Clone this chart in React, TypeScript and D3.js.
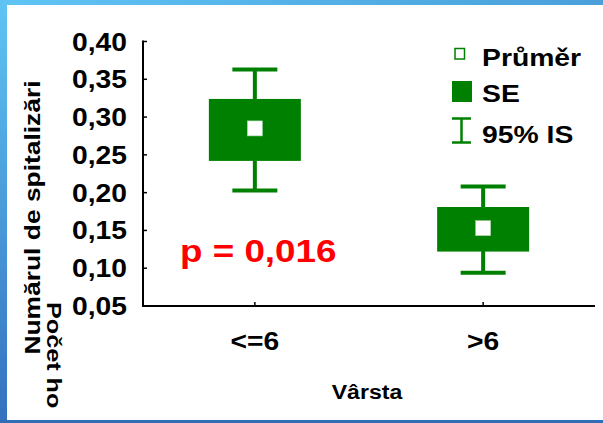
import React, { useEffect } from "react";
import * as d3 from "d3";

const categories = ["<=6", ">6"];
const means = [0.285, 0.153];
const seLow = [0.242, 0.122];
const seHigh = [0.324, 0.181];
const ciLow = [0.203, 0.094];
const ciHigh = [0.363, 0.208];
const yTicks = [0.05, 0.1, 0.15, 0.2, 0.25, 0.3, 0.35, 0.4];
const legendLabels = ["Průměr", "SE", "95% IS"];
const pText = "p = 0,016";
const yTitle = "Numărul de spitalizări";
const yTitle2 = "Počet ho";
const xTitle = "Vârsta";

const W = 603;
const H = 423;
const GREEN = "#008000";
const FONT = "'Liberation Sans', Arial, sans-serif";

export default function App() {
  useEffect(() => {
    document.body.style.margin = "0";
  }, []);

  const x0 = 143;
  const x1 = 595;
  const yBottom = 306;
  const yTop = 41.5;
  const y = d3.scaleLinear().domain([0.05, 0.4]).range([yBottom, yTop]);
  const x = d3.scalePoint<string>().domain(categories).range([x0, x1]).padding(0.49);
  const fmt = d3.formatLocale({ decimal: ",", thousands: ".", grouping: [3], currency: ["", ""] }).format(".2f");

  const boxW = 92;
  const capW = 45;
  const meanS = 15;
  const SX = 1.13;

  return (
    <svg width={W} height={H} style={{ position: "absolute", left: 0, top: 0, display: "block" }} fontFamily={FONT}>
      <defs>
        <linearGradient id="topG" x1="0" x2="1" y1="0" y2="0">
          <stop offset="0" stopColor="#5FC4F4" />
          <stop offset="1" stopColor="#4A9FDB" />
        </linearGradient>
        <linearGradient id="leftG" x1="0" x2="0" y1="0" y2="1">
          <stop offset="0" stopColor="#5FC4F4" />
          <stop offset="1" stopColor="#3471BE" />
        </linearGradient>
      </defs>
      <rect x={0} y={0} width={W} height={H} fill="#ffffff" />

      {/* secondary (partly hidden) title */}
      <text
        transform={`translate(47,302) rotate(90) scale(1.2,1)`}
        fontSize={21}
        fontWeight="bold"
        fill="#000"
      >
        {yTitle2}
      </text>

      {/* y axis */}
      <line x1={x0} x2={x0} y1={yTop - 1} y2={yBottom + 1} stroke="#000" strokeWidth={2} />
      {yTicks.map((t) => (
        <g key={t}>
          <line x1={x0} x2={x0 + 4} y1={y(t)} y2={y(t)} stroke="#000" strokeWidth={1.5} />
          <text
            transform={`translate(127,${y(t) + 9}) scale(${SX},1)`}
            textAnchor="end"
            fontSize={25}
            fontWeight="bold"
            fill="#000"
          >
            {fmt(t)}
          </text>
        </g>
      ))}

      {/* x axis */}
      <line x1={x0 - 1} x2={x1} y1={yBottom} y2={yBottom} stroke="#000" strokeWidth={2} />
      {categories.map((c) => (
        <g key={c}>
          <line x1={x(c)} x2={x(c)} y1={yBottom} y2={yBottom - 4} stroke="#000" strokeWidth={1.5} />
          <text
            transform={`translate(${x(c)},350) scale(${SX},1)`}
            textAnchor="middle"
            fontSize={25}
            fontWeight="bold"
            fill="#000"
          >
            {c}
          </text>
        </g>
      ))}

      {/* axis titles */}
      <text
        transform={`translate(40,${(78 + 357) / 2}) rotate(-90) scale(1.2,1)`}
        textAnchor="middle"
        fontSize={22}
        fontWeight="bold"
        fill="#000"
      >
        {yTitle}
      </text>
      <text
        transform={`translate(367,399) scale(1.1,1)`}
        textAnchor="middle"
        fontSize={21}
        fontWeight="bold"
        fill="#000"
      >
        {xTitle}
      </text>

      {/* marks */}
      {categories.map((c, i) => {
        const cx = x(c) as number;
        return (
          <g key={c}>
            <line x1={cx} x2={cx} y1={y(ciHigh[i])} y2={y(ciLow[i])} stroke={GREEN} strokeWidth={4} />
            <line x1={cx - capW / 2} x2={cx + capW / 2} y1={y(ciHigh[i])} y2={y(ciHigh[i])} stroke={GREEN} strokeWidth={4} />
            <line x1={cx - capW / 2} x2={cx + capW / 2} y1={y(ciLow[i])} y2={y(ciLow[i])} stroke={GREEN} strokeWidth={4} />
            <rect
              x={cx - boxW / 2}
              y={y(seHigh[i])}
              width={boxW}
              height={y(seLow[i]) - y(seHigh[i])}
              fill={GREEN}
            />
            <rect
              x={cx - meanS / 2}
              y={y(means[i]) - meanS / 2}
              width={meanS}
              height={meanS}
              fill="#ffffff"
              stroke="#a8d4a8"
              strokeWidth={0.6}
            />
          </g>
        );
      })}

      {/* p value */}
      <text
        transform={`translate(180,262) scale(1.15,1)`}
        fontSize={32}
        fontWeight="bold"
        fill="#ff0000"
      >
        {pText}
      </text>

      {/* legend */}
      <rect x={455} y={48.5} width={9.5} height={10.5} fill="#fff" stroke={GREEN} strokeWidth={1.5} />
      <rect x={452} y={81} width={20} height={21} fill={GREEN} />
      <g stroke={GREEN} strokeWidth={2.5}>
        <line x1={452} x2={471} y1={118.5} y2={118.5} />
        <line x1={452} x2={471} y1={142.5} y2={142.5} />
        <line x1={461.5} x2={461.5} y1={118.5} y2={142.5} />
      </g>
      {legendLabels.map((l, i) => (
        <text
          key={l}
          transform={`translate(482,${[66, 102, 143][i]}) scale(1.18,1)`}
          fontSize={24}
          fontWeight="bold"
          fill="#000"
        >
          {l}
        </text>
      ))}

      {/* blue frame */}
      <rect x={0} y={0} width={W} height={5} fill="url(#topG)" />
      <rect x={0} y={0} width={7} height={H} fill="url(#leftG)" />
      <rect x={0} y={420} width={W} height={3} fill="#2F6DB7" />
    </svg>
  );
}
